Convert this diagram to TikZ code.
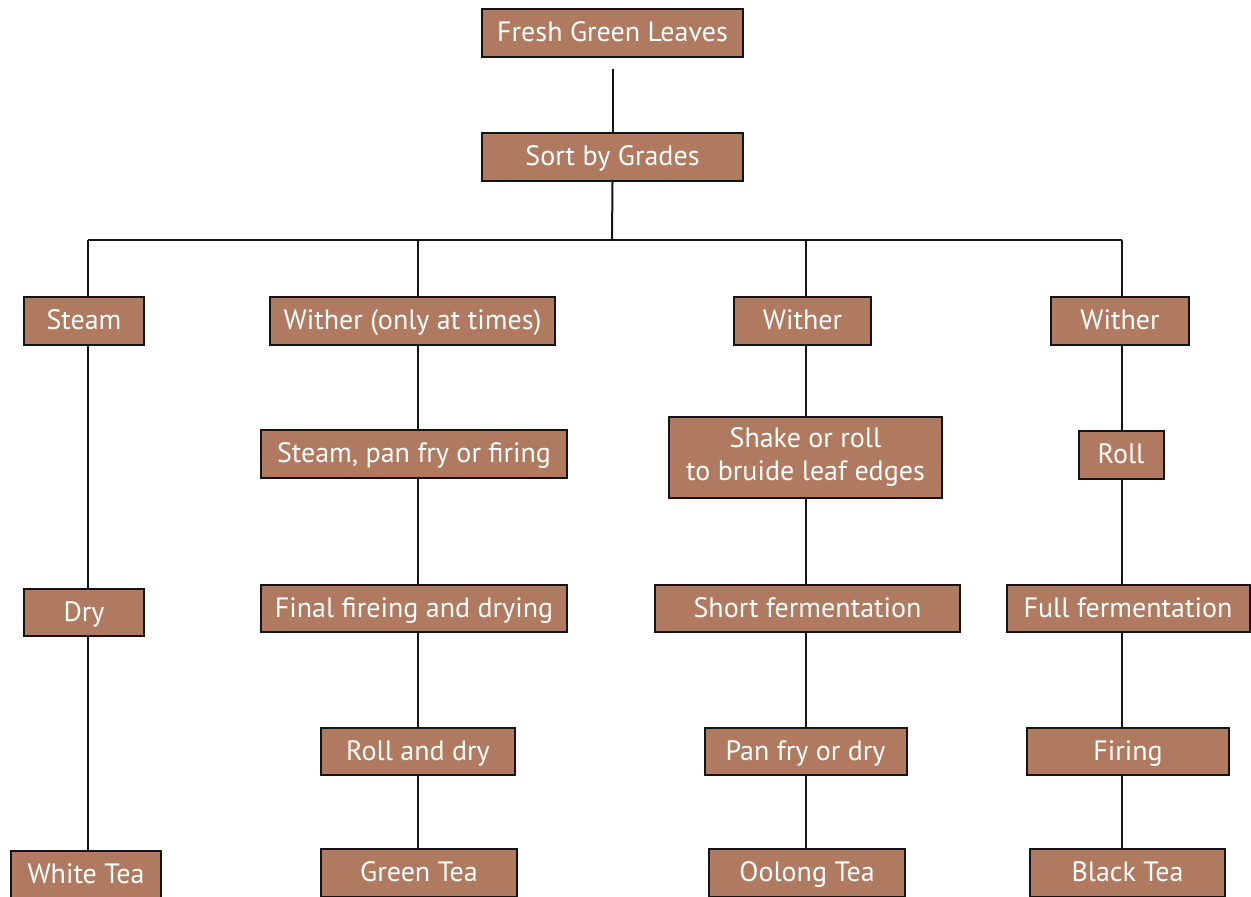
\documentclass[tikz,border=0pt]{standalone}
\usepackage{fontspec}
\setmainfont{PT Sans}
\definecolor{teabox}{RGB}{175,122,95}
\definecolor{lineblk}{RGB}{20,20,20}
\tikzset{
  tbox/.style={draw=lineblk, line width=2pt, fill=teabox, text=white, inner sep=0pt,
    font=\fontsize{28}{33}\selectfont, text height=17pt, text depth=0pt},
  mbox/.style={draw=lineblk, line width=2pt, fill=teabox, text=white, inner sep=0pt,
    font=\fontsize{28}{33}\selectfont, align=center},
  conn/.style={draw=lineblk, line width=2pt}
}
\begin{document}
\begin{tikzpicture}[x=1pt,y=-1pt]
\useasboundingbox (0,0) rectangle (1251,897);
% nodes
\node[tbox, minimum width=261, minimum height=48] (fresh) at (612.5,33) {Fresh Green Leaves};
\node[tbox, minimum width=261, minimum height=48] (sort) at (612.5,157) {Sort by Grades};
\node[tbox, minimum width=120, minimum height=48] (steam) at (84,321) {Steam};
\node[tbox, minimum width=285, minimum height=48] (witherA) at (412.5,321) {Wither (only at times)};
\node[tbox, minimum width=137, minimum height=48] (witherB) at (802.5,321) {Wither};
\node[tbox, minimum width=138, minimum height=48] (witherC) at (1120,321) {Wither};
\node[tbox, minimum width=306, minimum height=48] (steampan) at (414,454) {Steam, pan fry or firing};
\node[mbox, minimum width=273, minimum height=81] (shake) at (805.5,457) {Shake or roll\\to bruide leaf edges};
\node[tbox, minimum width=85, minimum height=48] (roll) at (1121,454.5) {Roll};
\node[tbox, minimum width=120, minimum height=47] (dry) at (84,612.5) {Dry};
\node[tbox, minimum width=306, minimum height=47] (final) at (414,608.5) {Final fireing and drying};
\node[tbox, minimum width=305, minimum height=47] (short) at (807.5,608.5) {Short fermentation};
\node[tbox, minimum width=243, minimum height=47] (full) at (1128,608.5) {Full fermentation};
\node[tbox, minimum width=194, minimum height=47] (rolldry) at (418,751.5) {Roll and dry};
\node[tbox, minimum width=202, minimum height=47] (panfry) at (805.5,751.5) {Pan fry or dry};
\node[tbox, minimum width=202, minimum height=47] (firing) at (1128,751.5) {Firing};
\node[tbox, minimum width=150, minimum height=48] (white) at (86,875) {White Tea};
\node[tbox, minimum width=196, minimum height=48] (green) at (419,873) {Green Tea};
\node[tbox, minimum width=196, minimum height=48] (oolong) at (807,873) {Oolong Tea};
\node[tbox, minimum width=195, minimum height=48] (black) at (1127.5,873) {Black Tea};
% bus coordinates
\coordinate (bus) at (612,240);
\coordinate (b1) at (88,240);
\coordinate (b2) at (418,240);
\coordinate (b3) at (806,240);
\coordinate (b4) at (1122,240);
% connectors
\draw[conn] ([yshift=-11pt]fresh.south) -- (sort.north);
\draw[conn] (sort.south) -- (bus);
\draw[conn] (b1) -- (b4);
\draw[conn] (b1) -- (b1 |- steam.north);
\draw[conn] (b2) -- (b2 |- witherA.north);
\draw[conn] (b3) -- (b3 |- witherB.north);
\draw[conn] (b4) -- (b4 |- witherC.north);
% column 1
\draw[conn] (steam.south -| b1) -- (dry.north -| b1);
\draw[conn] (dry.south -| b1) -- (white.north -| b1);
% column 2
\draw[conn] (witherA.south -| b2) -- (steampan.north -| b2);
\draw[conn] (steampan.south -| b2) -- (final.north -| b2);
\draw[conn] (final.south -| b2) -- (rolldry.north -| b2);
\draw[conn] (rolldry.south -| b2) -- (green.north -| b2);
% column 3
\draw[conn] (witherB.south -| b3) -- (shake.north -| b3);
\draw[conn] (shake.south -| b3) -- (short.north -| b3);
\draw[conn] (short.south -| b3) -- (panfry.north -| b3);
\draw[conn] (panfry.south -| b3) -- (oolong.north -| b3);
% column 4
\draw[conn] (witherC.south -| b4) -- (roll.north -| b4);
\draw[conn] (roll.south -| b4) -- (full.north -| b4);
\draw[conn] (full.south -| b4) -- (firing.north -| b4);
\draw[conn] (firing.south -| b4) -- (black.north -| b4);
\end{tikzpicture}
\end{document}
